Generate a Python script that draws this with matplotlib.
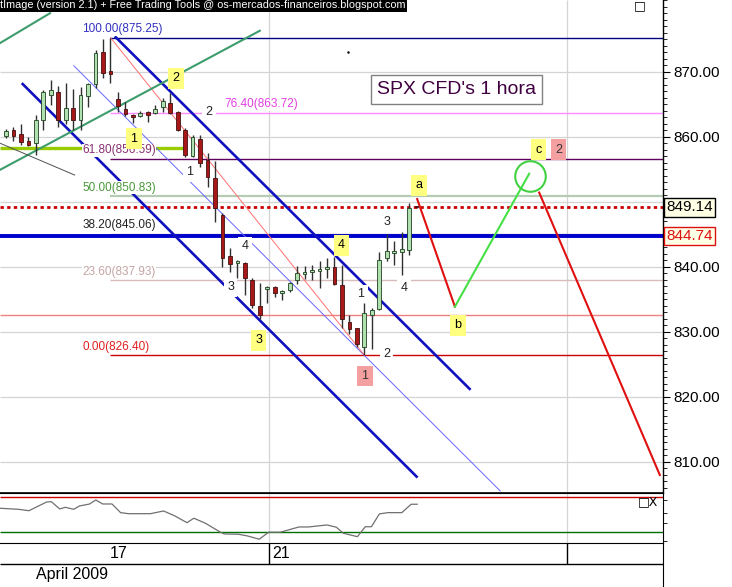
import matplotlib.pyplot as plt
from matplotlib.transforms import blended_transform_factory
from matplotlib.ticker import FixedLocator, MultipleLocator, FormatStrFormatter, NullFormatter

plt.rcParams['font.family'] = ['Liberation Sans', 'DejaVu Sans']

# hourly SPX CFD candles, 17 - 21 April 2009 (bar index = position on the chart)
opens = [860.1, 861.1, 860.4, 859.3, 859.1, 862.5, 866.4, 866.8, 862.5, 864.4,
         862.5, 866.2, 868.1, 873.1, 870.1, 865.8, 864.2, 863.3, 863.2, 863.8,
         863.6, 864.5, 865.2, 863.8, 861.0, 857.0, 859.7, 856.4, 853.6, 848.0,
         841.6, 840.5, 840.5, 837.9, 834.0, 836.5, 836.9, 835.9, 836.4, 837.9,
         838.8, 839.2, 839.3, 839.6, 839.9, 837.2, 831.5, 830.5, 827.7, 832.6,
         833.5, 841.4, 842.1, 842.2, 842.6, 849.3]
highs = [861.2, 861.5, 861.9, 860.0, 863.3, 867.2, 868.7, 867.8, 868.2, 867.3,
         867.7, 868.3, 873.3, 875.0, 875.25, 866.8, 865.4, 863.5, 864.0, 864.0,
         864.9, 865.9, 866.7, 864.0, 861.3, 860.3, 860.3, 857.5, 856.2, 848.2,
         842.8, 841.1, 840.7, 838.2, 837.5, 837.0, 837.0, 836.4, 837.7, 840.1,
         840.1, 840.3, 840.9, 841.3, 841.5, 840.3, 832.6, 830.6, 834.4, 833.6,
         842.3, 845.0, 844.0, 845.4, 849.8, 849.4]
lows = [859.8, 859.3, 858.7, 858.5, 857.2, 861.0, 864.9, 861.5, 862.0, 861.0,
        861.0, 864.5, 867.5, 869.0, 868.3, 863.8, 863.2, 862.1, 863.0, 862.3,
        863.5, 863.8, 863.5, 860.8, 856.9, 856.9, 855.4, 852.3, 846.9, 840.0,
        839.2, 838.2, 835.6, 833.6, 831.9, 834.4, 835.4, 834.9, 836.1, 837.3,
        838.1, 837.9, 836.7, 838.2, 837.2, 830.6, 829.6, 827.7, 826.4, 827.3,
        833.3, 840.8, 840.3, 838.7, 841.8, 849.0]
closes = [860.9, 860.1, 859.2, 858.7, 862.6, 866.8, 867.2, 862.5, 864.4, 862.6,
          866.4, 868.1, 872.9, 869.8, 869.7, 864.7, 863.5, 863.0, 863.7, 863.3,
          864.2, 865.5, 863.7, 861.0, 857.2, 859.9, 855.9, 853.8, 849.0, 841.3,
          840.4, 840.9, 838.2, 834.1, 832.6, 836.9, 836.0, 836.3, 837.5, 839.1,
          839.2, 839.5, 839.6, 839.9, 837.3, 831.9, 830.4, 828.1, 832.8, 833.3,
          841.1, 842.4, 842.4, 842.7, 849.1, 849.14]

# oscillator in the lower panel
osc_x = [-0.80, 1.70, 3.08, 5.45, 6.08, 7.20, 7.95, 9.08, 9.83, 11.21, 12.03, 12.96,
         14.20, 15.35, 16.41, 17.95, 19.35, 21.11, 22.63, 24.24, 25.17, 26.73, 28.61,
         29.23, 31.11, 32.37, 33.92, 35.18, 36.75, 39.24, 40.50, 42.99, 44.25, 45.20,
         47.07, 48.13, 48.95, 50.01, 51.14, 53.02, 54.27, 55.08]
osc_y = [57.1, 55.9, 54.3, 64.3, 64.6, 56.3, 58.2, 55.9, 59.7, 62.0, 66.6, 62.0,
         62.0, 52.1, 50.9, 50.9, 50.9, 54.0, 48.3, 40.6, 45.7, 39.9, 30.3,
         27.7, 27.4, 25.4, 21.7, 29.7, 29.7, 35.7, 35.7, 38.0, 35.4, 28.5,
         24.6, 36.0, 36.0, 50.6, 52.1, 52.1, 61.7, 61.7]
osc_levels = [70, 30]

# fibonacci retracement from the 875.25 high to the 826.40 low
fib_pcts = ['100.00', '76.40', '61.80', '50.00', '38.20', '23.60', '0.00']
fib_levels = [875.25, 863.72, 856.59, 850.83, 845.06, 837.93, 826.40]
fib_label_x = [10.2, 29.3, 10.2, 10.2, 10.2, 10.2, 10.2]
fib_start = 14

# other horizontal levels
last_price = 849.14
support_level = 844.74
low_level = 832.6
green_level = 858.2

# channel and trend lines: (x0, y0, x1, y1) in bar index / price
channel_thick = [(14.7, 875.3, 62.1, 821.2), (2.24, 868.1, 55.0, 807.7)]
channel_mid = (9.1, 870.9, 66.2, 805.5)
high_low_line = (14, 875.25, 48, 826.40)
green_lines = [(-0.8, 874.4, 5.9, 879.0), (-0.8, 854.9, 34.0, 876.3)]
gray_line = (-0.8, 859.0, 9.2, 854.1)

# projected a-b-c path
proj_ab_x = [55.08, 60.13]
proj_ab_y = [850.4, 833.85]
proj_bc_x = [60.13, 70.08]
proj_bc_y = [833.85, 854.3]
proj_down_x = [71.42, 87.58]
proj_down_y = [851.4, 807.95]
target = (70.17, 853.95)

# wave labels: text, x, y
yellow_labels = [('2', 22.74, 869.0), ('1', 17.14, 859.7), ('3', 33.84, 828.7),
                 ('4', 44.93, 843.3), ('a', 55.28, 852.5), ('b', 60.51, 831.0),
                 ('c', 71.38, 858.0)]
pink_labels = [('1', 48.08, 823.2), ('2', 74.02, 858.0)]
plain_labels = [('2', 27.19, 863.75), ('1', 24.64, 854.5), ('4', 32.01, 843.2),
                ('3', 30.09, 836.8), ('1', 47.54, 835.8), ('3', 51.06, 846.9),
                ('4', 53.3, 836.7), ('2', 50.98, 826.57)]

price_ticks = [810, 820, 830, 840, 860, 870]
grid_levels = [810, 820, 830, 840, 850, 860, 870]
day_breaks = [35.2, 75.1]
day_labels = [('17', 15.1, 'center'), ('21', 35.7, 'left')]

xmin, xmax = -0.8, 88.0

fig = plt.figure(figsize=(7.32, 5.87), dpi=100)
ax = fig.add_axes([0, 0.1601, 0.9057, 0.8399])
axi = fig.add_axes([0, 0.0750, 0.9057, 0.0852])
axd = fig.add_axes([0, 0, 0.9057, 0.0750])

# ---- main price panel ----
ax.set_xlim(xmin, xmax)
ax.set_ylim(805.18, 881.03)
ax.hlines(grid_levels, xmin, xmax, color='#d4d4d4', lw=0.9, zorder=0.5)
ax.vlines(day_breaks, 805.18, 881.03, color='#d4d4d4', lw=0.9, zorder=0.5)

fib_line_colors = ['#000080', '#ff8cff', '#600060', '#b4ccb4', '#a0a0a0', '#d8bcbc', '#cc0000']
fib_text_colors = ['#3030c0', '#e040e0', '#883070', '#4a9a3a', '#222222', '#c4a4a4', '#e02020']
fib_widths = [1.0, 1.0, 1.0, 1.6, 1.0, 1.0, 1.0]
for pct, lev, lx, lc, tc, w in zip(fib_pcts, fib_levels, fib_label_x,
                                   fib_line_colors, fib_text_colors, fib_widths):
    ax.hlines(lev, fib_start, xmax, color=lc, lw=w, zorder=1)
    ax.text(lx, lev + 1.3, f'{pct}({lev:.2f})', color=tc, fontsize=8.5,
            ha='left', va='center', zorder=5,
            bbox=dict(facecolor='white', edgecolor='none', pad=0.3))

ax.hlines(green_level, xmin, 24, color='#99cc00', lw=2.4, zorder=1.5)
ax.hlines(low_level, xmin, xmax, color='#f08080', lw=1.0, zorder=1.5)
ax.hlines(support_level, xmin, xmax, color='#0000cc', lw=2.8, zorder=1.5)
ax.hlines(last_price, xmin, xmax, color='#cc0000', lw=2.0,
          linestyles=(0, (1.2, 1.2)), zorder=1.5)

for x0, y0, x1, y1 in channel_thick:
    ax.plot([x0, x1], [y0, y1], color='#1010c0', lw=1.9, zorder=2)
ax.plot(channel_mid[::2], channel_mid[1::2], color='#6666ff', lw=0.7, zorder=2)
ax.plot(high_low_line[::2], high_low_line[1::2], color='#ff7070', lw=0.7, zorder=2)
for x0, y0, x1, y1 in green_lines:
    ax.plot([x0, x1], [y0, y1], color='#3c9c6c', lw=1.5, zorder=2)
ax.plot(gray_line[::2], gray_line[1::2], color='#505050', lw=0.7, zorder=2)

# candles
idx = list(range(len(opens)))
ax.vlines(idx, lows, highs, color='#303030', lw=1.0, zorder=3)
for i, o, c in zip(idx, opens, closes):
    up = c >= o
    ax.bar(i, max(abs(c - o), 0.25), bottom=min(o, c), width=0.5,
           color='#b0e0b0' if up else '#a81818',
           edgecolor='#204020' if up else '#401010', lw=0.6, zorder=3.5)

# projected path and target circle
ax.plot(proj_ab_x, proj_ab_y, color='#e01010', lw=1.5, zorder=3)
ax.plot(proj_bc_x, proj_bc_y, color='#44e044', lw=1.5, zorder=3)
ax.plot(proj_down_x, proj_down_y, color='#e01010', lw=1.5, zorder=3)
ax.plot(*target, marker='o', ms=22, mfc='none', mec='#40d040', mew=1.5, zorder=3)
ax.plot(45.84, 873.08, marker='.', ms=1.5, color='black')

for t, x, y in yellow_labels:
    ax.text(x, y, t, fontsize=9, ha='center', va='center', zorder=6,
            bbox=dict(facecolor='#ffff80', edgecolor='none', boxstyle='square,pad=0.35'))
for t, x, y in pink_labels:
    ax.text(x, y, t, fontsize=9, ha='center', va='center', color='#333333', zorder=6,
            bbox=dict(facecolor='#f4a0a0', edgecolor='none', boxstyle='square,pad=0.35'))
for t, x, y in plain_labels:
    ax.text(x, y, t, fontsize=9, ha='center', va='center', color='#222222', zorder=6,
            bbox=dict(facecolor='white', edgecolor='none', boxstyle='square,pad=0.25'))

ax.text(60.37, 867.3, "SPX CFD's 1 hora", fontsize=14, color='#400040',
        ha='center', va='center', zorder=6,
        bbox=dict(facecolor='white', edgecolor='#808080', lw=1.0, boxstyle='square,pad=0.3'))

ax.text(0.965, 0.989, '\u25a1', transform=ax.transAxes, fontsize=9,
        ha='center', va='center', family='DejaVu Sans')

# price axis on the right
ax.set_xticks([])
ax.yaxis.tick_right()
ax.yaxis.set_major_locator(FixedLocator(price_ticks))
ax.yaxis.set_minor_locator(MultipleLocator(1))
ax.yaxis.set_major_formatter(FormatStrFormatter('%.2f'))
ax.tick_params(axis='y', which='major', length=5, width=0.8, pad=2.5, labelsize=11)
ax.tick_params(axis='y', which='minor', length=3, width=0.6)
for s in ['top', 'left']:
    ax.spines[s].set_visible(False)
ax.spines['right'].set_linewidth(1.0)
ax.spines['bottom'].set_linewidth(1.2)

tr = blended_transform_factory(ax.transAxes, ax.transData)
ax.text(1.005, last_price, f'{last_price:.2f}', transform=tr, fontsize=11, color='black',
        ha='left', va='center', clip_on=False, zorder=7,
        bbox=dict(facecolor='#ffffe6', edgecolor='black', lw=1.0, boxstyle='square,pad=0.15'))
ax.text(1.005, support_level, f'{support_level:.2f}', transform=tr, fontsize=11,
        color='#dd1010', ha='left', va='center', clip_on=False, zorder=7,
        bbox=dict(facecolor='#ffffe6', edgecolor='#dd1010', lw=1.0, boxstyle='square,pad=0.15'))

# title bar
fig.text(0.0, 1.0, 'tImage (version 2.1) + Free Trading Tools @ os-mercados-financeiros.blogspot.com',
         color='white', fontsize=7.8, ha='left', va='top',
         bbox=dict(facecolor='black', edgecolor='none', pad=1.4))

# ---- oscillator panel ----
axi.set_xlim(xmin, xmax)
axi.set_ylim(17.4, 74.6)
axi.vlines(day_breaks, 17.4, 74.6, color='#d4d4d4', lw=0.9)
axi.hlines(osc_levels[0], xmin, xmax, color='#cc0000', lw=1.0)
axi.hlines(osc_levels[1], xmin, xmax, color='#007000', lw=1.0)
axi.plot(osc_x, osc_y, color='#707070', lw=0.9)
axi.set_xticks([])
axi.yaxis.tick_right()
axi.yaxis.set_major_locator(FixedLocator([20, 40, 52, 66]))
axi.yaxis.set_major_formatter(NullFormatter())
axi.tick_params(axis='y', length=3, width=0.6)
for s in ['left', 'bottom']:
    axi.spines[s].set_visible(False)
axi.text(0.977, 0.82, '\u25a1X', transform=axi.transAxes, fontsize=9,
         ha='center', va='center', family='DejaVu Sans')

# ---- date axis ----
axd.set_xlim(xmin, xmax)
axd.set_ylim(0, 44)
axd.hlines(23, xmin, xmax, color='black', lw=1.0)
axd.vlines(day_breaks, 23, 44, color='black', lw=1.0)
for t, x, ha in day_labels:
    axd.text(x, 33.5, t, fontsize=11.5, ha=ha, va='center',
             family=['Liberation Sans Narrow', 'Liberation Sans'])
axd.text(4.0, 12, 'April 2009', fontsize=11.5, ha='left', va='center',
         family=['Liberation Sans Narrow', 'Liberation Sans'])
axd.set_xticks([])
axd.set_yticks([])
for s in ['left', 'bottom']:
    axd.spines[s].set_visible(False)

plt.savefig('out.png', dpi=100)
